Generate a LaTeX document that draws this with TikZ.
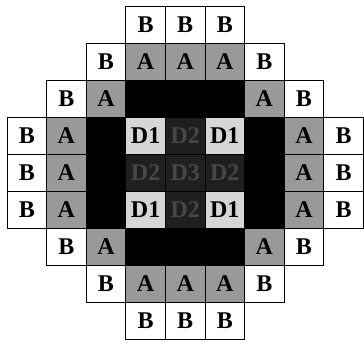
\documentclass[tikz,border=0pt]{standalone}
\usepackage{fontspec}
\setmainfont{Liberation Serif}
\tikzset{
  cell/.style={draw=black, line width=1pt, minimum width=39.6pt, minimum height=37pt,
    inner sep=0pt, font=\fontsize{24}{24}\selectfont\bfseries},
  bcell/.style={cell, fill=white},
  acell/.style={cell, fill=black!40},
  blkcell/.style={cell, fill=black},
  dlight/.style={cell, fill=black!16},
  ddark/.style={cell, fill=black!88, text=black!72}
}
\begin{document}
\begin{tikzpicture}[x=39.6pt,y=-37pt]
  \useasboundingbox (0pt,0pt) rectangle (364pt,-343pt);
  \begin{scope}[shift={(7pt,-6pt)}]
  % outer ring "B"
  \foreach \c/\r [count=\i] in {3/0,4/0,5/0,2/1,6/1,1/2,7/2,0/3,0/4,0/5,8/3,8/4,8/5,1/6,7/6,2/7,6/7,3/8,4/8,5/8}
    \node[bcell] (b\i) at (\c+0.5,\r+0.5) {B};
  % ring "A"
  \foreach \c/\r [count=\i] in {3/1,4/1,5/1,2/2,6/2,1/3,1/4,1/5,7/3,7/4,7/5,2/6,6/6,3/7,4/7,5/7}
    \node[acell] (a\i) at (\c+0.5,\r+0.5) {A};
  % black ring
  \foreach \c/\r [count=\i] in {3/2,4/2,5/2,2/3,2/4,2/5,6/3,6/4,6/5,3/6,4/6,5/6}
    \node[blkcell] (k\i) at (\c+0.5,\r+0.5) {};
  % centre block
  \node[dlight] (d1a) at (3.5,3.5) {D1};
  \node[ddark]  (d2a) at (4.5,3.5) {D2};
  \node[dlight] (d1b) at (5.5,3.5) {D1};
  \node[ddark]  (d2b) at (3.5,4.5) {D2};
  \node[ddark]  (d3)  at (4.5,4.5) {D3};
  \node[ddark]  (d2c) at (5.5,4.5) {D2};
  \node[dlight] (d1c) at (3.5,5.5) {D1};
  \node[ddark]  (d2d) at (4.5,5.5) {D2};
  \node[dlight] (d1d) at (5.5,5.5) {D1};
  \end{scope}
\end{tikzpicture}
\end{document}
